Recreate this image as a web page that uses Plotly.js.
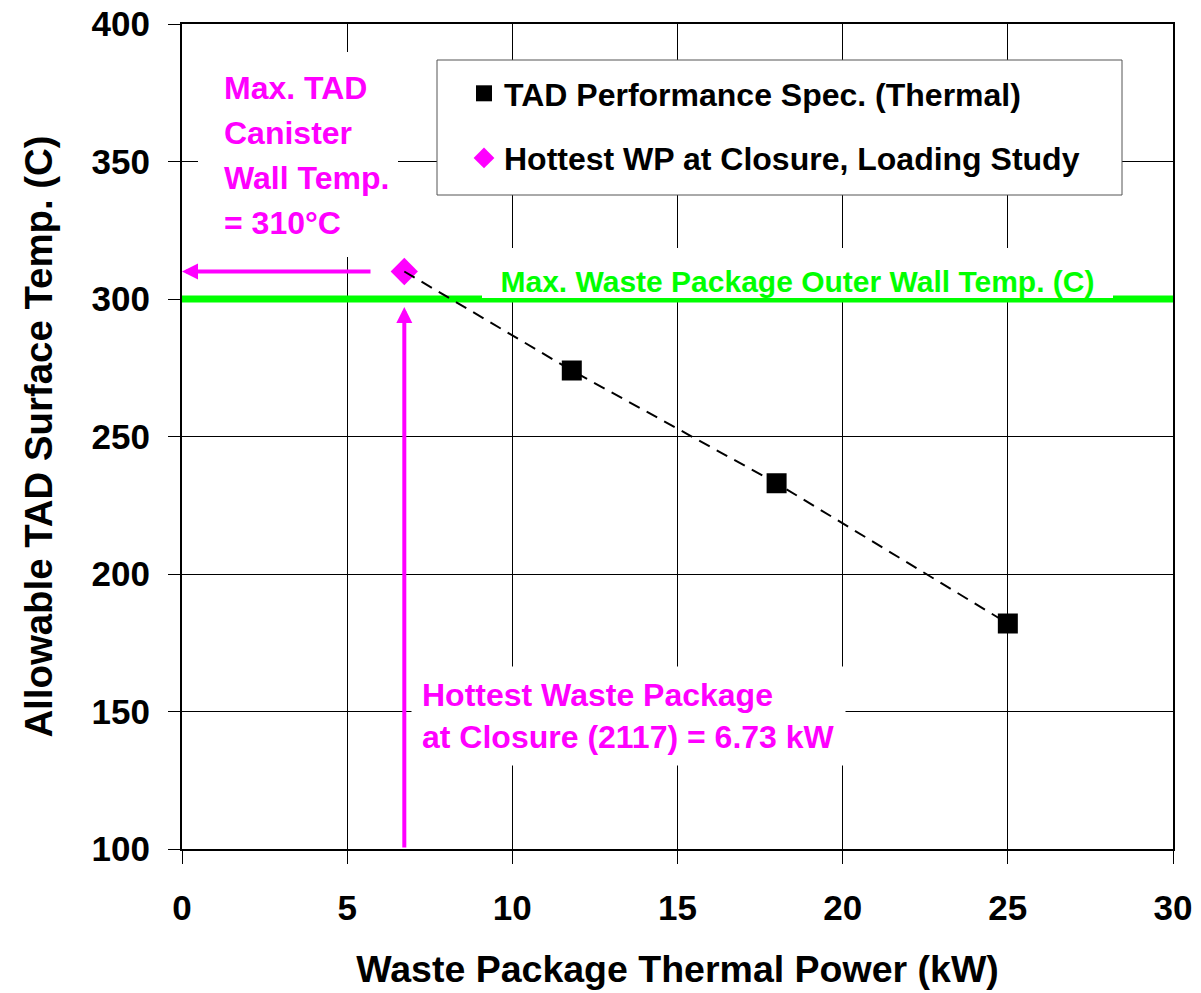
<!DOCTYPE html>
<html>
<head>
<meta charset="utf-8">
<script src="https://cdn.plot.ly/plotly-3.0.1.min.js"></script>
<style>
html,body{margin:0;padding:0;background:#fff;}
#chart{width:1201px;height:993px;}
</style>
</head>
<body>
<div id="chart"></div>
<script>
// ---- data ----
const tadPower = [6.73, 11.8, 18.0, 25.0];      // kW (trend line points)
const tadTemp  = [310, 274, 233, 182];          // C
const specPower = [11.8, 18.0, 25.0];           // TAD Performance Spec. markers
const specTemp  = [274, 233, 182];
const hotPower = [6.73];                        // Hottest WP at closure
const hotTemp  = [310];
const wpLimit = 300;                            // max WP outer wall temp (C)
const canisterLimit = 310;                      // max TAD canister wall temp (C)
const xRange = [0, 30];
const yRange = [100, 400];
const xTicks = [0, 5, 10, 15, 20, 25, 30];
const yTicks = [100, 150, 200, 250, 300, 350, 400];
const canisterLines = ['Max. TAD', 'Canister', 'Wall Temp.', '= 310°C'];
const hotLabel = 'Hottest Waste Package<br>at Closure (2117) = 6.73 kW';
const limitLabel = 'Max. Waste Package Outer Wall Temp. (C)';

const FONT = '"Liberation Sans", Arial, sans-serif';
const MAGENTA = '#FF00FF';
const GREEN = '#00FF00';

const traces = [
  { // green limit line
    x: xRange, y: [wpLimit, wpLimit], mode: 'lines',
    line: {color: GREEN, width: 7}, showlegend: false, hoverinfo: 'skip'
  },
  { // TAD spec squares
    x: specPower, y: specTemp, mode: 'markers', name: 'TAD Performance Spec. (Thermal)',
    marker: {symbol: 'square', size: 20, color: '#000'},
    legendgroup: 'a'
  },
  { // hottest WP diamond
    x: hotPower, y: hotTemp, mode: 'markers', name: 'Hottest WP at Closure, Loading Study',
    marker: {symbol: 'diamond', size: 21, color: MAGENTA},
    legendgroup: 'b'
  },
  { // dashed trend line
    x: tadPower, y: tadTemp, mode: 'lines',
    line: {color: '#000', width: 2, dash: '12px,8px'}, showlegend: false, hoverinfo: 'skip'
  }
];

// pixel helpers (plot area: x 182..1173, y 24..849)
const X = px => (px - 182) / 33.033;
const Y = py => 400 - (py - 24) / 2.75;

const annotations = [];
canisterLines.forEach((t, i) => {
  annotations.push({
    xref: 'x', yref: 'y', x: X(222), y: Y(88 + 45 * i), xanchor: 'left', yanchor: 'middle',
    text: t, align: 'left', showarrow: false,
    font: {family: FONT, size: 32, color: MAGENTA, weight: 'bold'}
  });
});
annotations.push(
  { // hottest WP text
    xref: 'x', yref: 'y', x: X(411), y: Y(666), xanchor: 'left', yanchor: 'top',
    text: hotLabel, align: 'left', showarrow: false,
    bgcolor: '#fff', borderpad: 10,
    font: {family: FONT, size: 32, color: MAGENTA, weight: 'bold'}
  },
  { // green label
    xref: 'x', yref: 'y', x: X(797.5), y: Y(298), xanchor: 'center', yanchor: 'bottom',
    text: limitLabel, showarrow: false, valign: 'bottom',
    bgcolor: '#fff', borderpad: 0, borderwidth: 0, width: 631, height: 50,
    font: {family: FONT, size: 30, color: GREEN, weight: 'bold'}
  },
  { // horizontal arrow to y axis
    xref: 'x', yref: 'y', axref: 'x', ayref: 'y',
    x: 0, y: canisterLimit, ax: X(372), ay: canisterLimit,
    text: '', showarrow: true, arrowhead: 2, arrowsize: 0.8, arrowwidth: 4,
    arrowcolor: MAGENTA, standoff: 0, startstandoff: 0
  },
  { // vertical arrow from x axis
    xref: 'x', yref: 'y', axref: 'x', ayref: 'y',
    x: hotPower[0], y: Y(307), ax: hotPower[0], ay: yRange[0],
    text: '', showarrow: true, arrowhead: 2, arrowsize: 0.8, arrowwidth: 4,
    arrowcolor: MAGENTA, standoff: 0, startstandoff: 0
  }
);

const shapes = [
  { // white background behind canister text
    type: 'rect', xref: 'x', yref: 'y', layer: 'between',
    x0: X(198), x1: X(398), y0: Y(52), y1: Y(257),
    fillcolor: '#fff', line: {width: 0}
  },
  { // legend box
    type: 'rect', xref: 'x', yref: 'y', layer: 'between',
    x0: X(437), x1: X(1122), y0: Y(60), y1: Y(195),
    fillcolor: '#fff', line: {color: '#555', width: 1}
  }
];

const layout = {
  width: 1201, height: 993,
  margin: {l: 182, r: 28, t: 24, b: 144},
  paper_bgcolor: '#fff', plot_bgcolor: '#fff',
  font: {family: FONT, color: '#000'},
  showlegend: true,
  legend: {
    x: (437 - 182) / 991, y: (849 - 66) / 825, xanchor: 'left', yanchor: 'top',
    bgcolor: 'rgba(0,0,0,0)', borderwidth: 0,
    font: {family: FONT, size: 32, color: '#000', weight: 'bold'},
    traceorder: 'grouped', tracegroupgap: 20, indentation: 27
  },
  xaxis: {
    range: xRange, tickvals: xTicks, ticktext: xTicks.map(String),
    showgrid: true, gridcolor: '#000', gridwidth: 1,
    showline: true, linecolor: '#000', linewidth: 2, mirror: true,
    ticks: 'outside', ticklen: 13, tickcolor: '#000', tickwidth: 1,
    ticklabelstandoff: 14,
    zeroline: false,
    tickfont: {family: FONT, size: 35, color: '#000', weight: 'bold'},
    title: {text: 'Waste Package Thermal Power (kW)', standoff: 30,
            font: {family: FONT, size: 37.5, color: '#000', weight: 'bold'}}
  },
  yaxis: {
    range: yRange, tickvals: yTicks, ticktext: yTicks.map(String),
    showgrid: true, gridcolor: '#000', gridwidth: 1,
    showline: true, linecolor: '#000', linewidth: 2, mirror: true,
    ticks: 'outside', ticklen: 12, tickcolor: '#000', tickwidth: 1,
    ticklabelstandoff: 11,
    zeroline: false,
    tickfont: {family: FONT, size: 35, color: '#000', weight: 'bold'},
    title: {text: 'Allowable TAD Surface Temp. (C)', standoff: 27,
            font: {family: FONT, size: 38.4, color: '#000', weight: 'bold'}}
  },
  shapes: shapes,
  annotations: annotations
};

Plotly.newPlot('chart', traces, layout, {displayModeBar: false, staticPlot: true});
</script>
</body>
</html>
